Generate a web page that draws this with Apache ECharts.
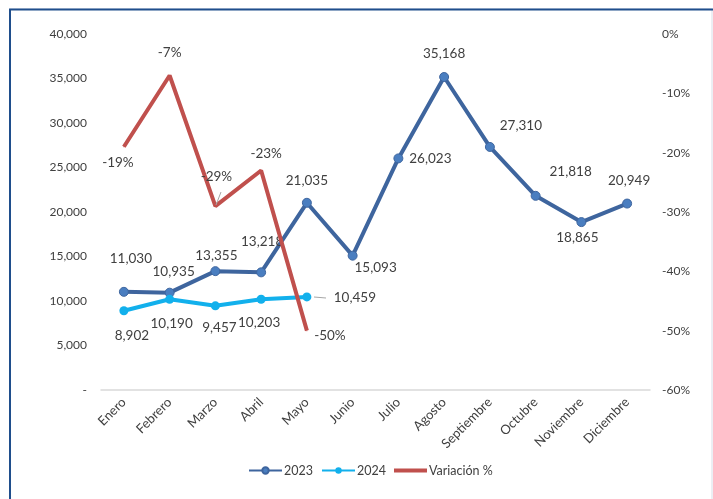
<!DOCTYPE html>
<html>
<head>
<meta charset="utf-8">
<script src="https://cdn.jsdelivr.net/npm/echarts@6/dist/echarts.min.js"></script>
<style>
  html, body { margin: 0; padding: 0; background: #fff; }
  #main { width: 713px; height: 499px; }
</style>
</head>
<body>
<div id="main"></div>
<script>
// datos
const meses = ['Enero', 'Febrero', 'Marzo', 'Abril', 'Mayo', 'Junio', 'Julio', 'Agosto', 'Septiembre', 'Octubre', 'Noviembre', 'Diciembre']
const ventas2023 = [11030, 10935, 13355, 13218, 21035, 15093, 26023, 35168, 27310, 21818, 18865, 20949]
const ventas2024 = [8902, 10190, 9457, 10203, 10459]
const variacion = [-0.19, -0.07, -0.29, -0.23, -0.5]

// desplazamiento de cada etiqueta respecto a su punto (px)
const offs2023 = [[7, -33], [4, -21], [1, -15], [1, -31], [0, -22], [23, 12], [32, 0], [0, -23], [31, -21], [35, -24], [-4, 16], [2, -23]]
const offs2024 = [[8, 25], [2, 24], [4, 22], [-2, 23], [48, 1]]
const offsVar = [[-6, 16], [0, -23], [1, -29], [5, -17], [23, 5]]

const FONT = 'Lato, "Open Sans", sans-serif'
const TXT = '#404040'

function fmtMiles(v) {
  if (v === 0) return '-'
  return v.toLocaleString('en-US')
}

function conEtiquetas(valores, offs, fmt) {
  return valores.map((v, i) => ({
    value: v,
    label: { position: 'inside', offset: offs[i], formatter: () => fmt(v) },
  }))
}

const myChart = echarts.init(document.getElementById('main'))
myChart.setOption({
  animation: false,
  textStyle: { fontFamily: FONT },
  graphic: [
    {
      type: 'rect',
      shape: { x: 10, y: 9, width: 702, height: 500 },
      style: { fill: 'none', stroke: '#D9DEE8', lineWidth: 1 },
    },
    {
      type: 'polyline',
      shape: { points: [[10, 499], [10, 9.5], [713, 9.5]] },
      style: { fill: 'none', stroke: '#1F4E8C', lineWidth: 2 },
    },
    // pequeñas líneas guía de algunas etiquetas
    {
      type: 'line',
      shape: { x1: 314, y1: 297, x2: 326, y2: 298 },
      style: { stroke: '#A6A6A6', lineWidth: 1 },
    },
    {
      type: 'line',
      shape: { x1: 216, y1: 205, x2: 221, y2: 192 },
      style: { stroke: '#A6A6A6', lineWidth: 1 },
      z: 10,
    },
  ],
  grid: { left: 101, right: 63, top: 34, bottom: 109 },
  legend: {
    bottom: 17,
    left: 243,
    itemWidth: 33,
    itemHeight: 8,
    itemGap: 8,
    textStyle: { color: TXT, fontSize: 12.5, fontFamily: FONT, padding: [0, 0, 0, -3] },
    data: ['2023', '2024', { name: 'Variación %', icon: 'path://M0,0H33V4H0Z' }],
  },
  xAxis: {
    type: 'category',
    data: meses,
    axisLine: { lineStyle: { color: '#D9D9D9', width: 1.5 } },
    axisTick: { show: false },
    axisLabel: { rotate: 45, color: TXT, fontSize: 13, fontFamily: FONT, margin: 10 },
  },
  yAxis: [
    {
      type: 'value',
      min: 0,
      max: 40000,
      interval: 5000,
      splitLine: { show: false },
      axisLine: { show: false },
      axisTick: { show: false },
      axisLabel: { color: TXT, fontSize: 12, fontFamily: FONT, margin: 14, formatter: fmtMiles },
    },
    {
      type: 'value',
      min: -0.6,
      max: 0,
      interval: 0.1,
      splitLine: { show: false },
      axisLine: { show: false },
      axisTick: { show: false },
      axisLabel: {
        color: TXT,
        fontSize: 12,
        fontFamily: FONT,
        margin: 12,
        formatter: (v) => Math.round(v * 100) + '%',
      },
    },
  ],
  series: [
    {
      name: '2023',
      type: 'line',
      data: conEtiquetas(ventas2023, offs2023, fmtMiles),
      symbol: 'circle',
      symbolSize: 9,
      lineStyle: { color: '#3E659E', width: 4 },
      itemStyle: { color: '#4A7EC0', borderColor: '#3E659E', borderWidth: 1 },
      label: { show: true, color: TXT, fontSize: 13.5, fontFamily: FONT },
      z: 3,
    },
    {
      name: '2024',
      type: 'line',
      data: conEtiquetas(ventas2024, offs2024, fmtMiles),
      symbol: 'circle',
      symbolSize: 9,
      lineStyle: { color: '#12B0EC', width: 4 },
      itemStyle: { color: '#12B0EC' },
      label: { show: true, color: TXT, fontSize: 13.5, fontFamily: FONT },
      z: 4,
    },
    {
      name: 'Variación %',
      type: 'line',
      yAxisIndex: 1,
      data: conEtiquetas(variacion, offsVar, (v) => Math.round(v * 100) + '%'),
      symbol: 'circle',
      symbolSize: 1,
      lineStyle: { color: '#C0504D', width: 4 },
      itemStyle: { color: '#C0504D' },
      label: { show: true, color: TXT, fontSize: 13.5, fontFamily: FONT },
      z: 5,
    },
  ],
})
</script>
</body>
</html>
